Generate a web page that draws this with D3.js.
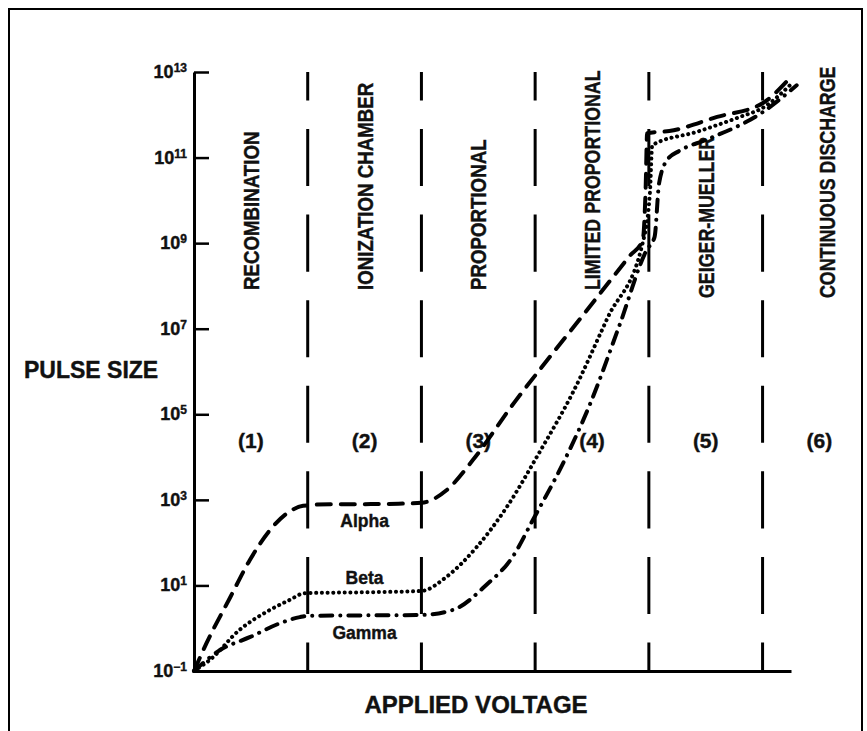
<!DOCTYPE html>
<html>
<head>
<meta charset="utf-8">
<script src="https://cdn.jsdelivr.net/npm/d3@7"></script>
<style>
  body { margin: 0; background: #fff; }
  svg text { font-family: 'Liberation Sans', Arial, Helvetica, sans-serif; font-weight: bold; fill: #111; stroke: #111; stroke-width: 0.4px; }
</style>
</head>
<body>
<div id="root"></div>
<script>
// log axis tick exponents (pulse size = 10^n)
var exponents = [-1, 1, 3, 5, 7, 9, 11, 13];
var regionNames = ['RECOMBINATION', 'IONIZATION CHAMBER', 'PROPORTIONAL', 'LIMITED PROPORTIONAL', 'GEIGER-MUELLER', 'CONTINUOUS DISCHARGE'];
var regionNumbers = ['(1)', '(2)', '(3)', '(4)', '(5)', '(6)'];
var boundaries = [1, 2, 3, 4, 5];

// curves: voltage in region units, pulse size as log10
var alphaVolt = [0, 0.11, 0.32, 0.49, 0.67, 0.82, 0.96, 1.2, 1.5, 1.8, 2.0, 2.223, 2.452, 2.821, 3.102, 3.392, 3.629, 3.831, 3.946, 3.972, 3.985, 4.18, 4.6, 5.0, 5.22];
var alphaLog  = [-1, -0.35, 0.73, 1.59, 2.30, 2.69, 2.86, 2.9, 2.9, 2.91, 2.93, 3.23, 3.93, 5.29, 6.25, 7.22, 8.02, 8.70, 9.07, 10.3, 11.57, 11.62, 11.95, 12.27, 12.8];

var betaVolt = [0, 0.14, 0.40, 0.67, 0.84, 0.975, 1.5, 2.0, 2.22, 2.487, 2.75, 3.04, 3.33, 3.64, 3.945, 4.01, 4.03, 4.42, 4.80, 5.0, 5.26];
var betaLog  = [-1, -0.74, -0.04, 0.43, 0.66, 0.82, 0.84, 0.87, 1.20, 1.90, 2.83, 4.12, 5.50, 7.27, 9.0, 10.2, 11.29, 11.60, 11.95, 12.16, 12.74];

var gammaVolt = [0, 0.23, 0.49, 0.76, 0.93, 1.0, 1.5, 2.0, 2.28, 2.57, 2.80, 2.98, 3.243, 3.48, 3.743, 3.981, 4.05, 4.09, 4.16, 4.27, 4.51, 5.0, 5.30];
var gammaLog  = [-1, -0.51, -0.21, 0.12, 0.26, 0.29, 0.30, 0.31, 0.43, 1.01, 1.66, 2.53, 3.84, 5.22, 7.09, 8.84, 9.14, 10.40, 10.94, 11.16, 11.42, 12.06, 12.69];

var w = 867, h = 731;

var svg = d3.select('#root').append('svg')
  .attr('width', w)
  .attr('height', h);

// page frame (open at the bottom like the scan)
svg.append('path')
  .attr('d', 'M9,' + h + 'V9H862V' + h)
  .attr('fill', 'none')
  .attr('stroke', '#000')
  .attr('stroke-width', 2);

var xScale = d3.scaleLinear()
  .domain([0, 5.25])
  .range([194, 791]);

var yScale = d3.scaleLog()
  .domain([1e-1, 1e13])
  .range([671, 72]);

// region boundaries, dashes centred on the odd-decade ticks
var period = yScale(1e11) - yScale(1e13);
svg.selectAll('line.divider')
  .data(boundaries).enter()
  .append('line')
  .attr('class', 'divider')
  .attr('x1', function(d) { return xScale(d); })
  .attr('x2', function(d) { return xScale(d); })
  .attr('y1', yScale(1e13))
  .attr('y2', yScale(1e-1))
  .attr('stroke', '#000')
  .attr('stroke-width', 3)
  .attr('stroke-dasharray', (period * 2 / 3) + ',' + (period / 3))
  .attr('stroke-dashoffset', period / 3);

// y axis, ticks pointing inwards
var yAxis = d3.axisLeft(yScale)
  .tickValues(exponents.map(function(e) { return Math.pow(10, e); }))
  .tickSizeInner(-15)
  .tickSizeOuter(0)
  .tickFormat('');

var yG = svg.append('g')
  .attr('transform', 'translate(194,0)')
  .call(yAxis);
yG.select('.domain').attr('stroke', '#000').attr('stroke-width', 3);
yG.selectAll('.tick line').attr('stroke', '#000').attr('stroke-width', 2.5);

var xAxis = d3.axisBottom(xScale)
  .tickValues([])
  .tickSizeOuter(0);

var xG = svg.append('g')
  .attr('transform', 'translate(0,' + yScale(1e-1) + ')')
  .call(xAxis);
xG.select('.domain').attr('stroke', '#000').attr('stroke-width', 3);

// tick labels 10^n with superscript
var tickLabels = svg.selectAll('text.ytick')
  .data(exponents).enter()
  .append('text')
  .attr('class', 'ytick')
  .attr('x', 187)
  .attr('y', function(d) { return yScale(Math.pow(10, d)) + 6; })
  .attr('text-anchor', 'end')
  .style('font-size', '18px');
tickLabels.append('tspan').text('10');
tickLabels.append('tspan')
  .attr('dy', -6)
  .style('font-size', '12px')
  .text(function(d) { return d < 0 ? '\u2212' + (-d) : d; });

// axis titles
svg.append('text')
  .attr('x', 24)
  .attr('y', 378)
  .style('font-size', '23px')
  .text('PULSE SIZE');

svg.append('text')
  .attr('x', 476)
  .attr('y', 713)
  .attr('text-anchor', 'middle')
  .style('font-size', '24px')
  .text('APPLIED VOLTAGE');

// rotated region names, the last two sit a bit lower in the scan
svg.selectAll('text.region')
  .data(regionNames).enter()
  .append('text')
  .attr('class', 'region')
  .attr('transform', function(d, i) {
    var cx = xScale(i + 0.5) + (i == 5 ? 8 : 0);
    var by = i >= 4 ? 298 : 290;
    var sx = i >= 3 ? 0.81 : 0.85;
    return 'translate(' + cx + ',' + by + ') rotate(-90) scale(' + sx + ',1)';
  })
  .attr('dy', '0.36em')
  .style('font-size', '22px')
  .text(function(d) { return d; });

svg.selectAll('text.num')
  .data(regionNumbers).enter()
  .append('text')
  .attr('class', 'num')
  .attr('x', function(d, i) { return xScale(i + 0.5); })
  .attr('y', 448)
  .attr('text-anchor', 'middle')
  .style('font-size', '21px')
  .text(function(d) { return d; });

// the three curves
var line = d3.line()
  .x(function(d) { return xScale(d[0]); })
  .y(function(d) { return yScale(Math.pow(10, d[1])); })
  .curve(d3.curveMonotoneX);

var curves = [
  { volt: alphaVolt, lg: alphaLog, dash: '14,10', width: 4 },
  { volt: betaVolt, lg: betaLog, dash: '0.1,5.6', width: 4 },
  { volt: gammaVolt, lg: gammaLog, dash: '12,8,0.1,8', width: 4 }
];

curves.forEach(function(c) {
  svg.append('path')
    .datum(d3.zip(c.volt, c.lg))
    .attr('d', line)
    .attr('fill', 'none')
    .attr('stroke', '#000')
    .attr('stroke-width', c.width)
    .attr('stroke-linecap', 'round')
    .attr('stroke-dasharray', c.dash);
});

// curve names in region 2
var names = [['Alpha', 527], ['Beta', 584], ['Gamma', 639]];
svg.selectAll('text.curve-name')
  .data(names).enter()
  .append('text')
  .attr('class', 'curve-name')
  .attr('x', xScale(1.5))
  .attr('y', function(d) { return d[1]; })
  .attr('text-anchor', 'middle')
  .style('font-size', '17.5px')
  .text(function(d) { return d[0]; });
</script>
</body>
</html>
